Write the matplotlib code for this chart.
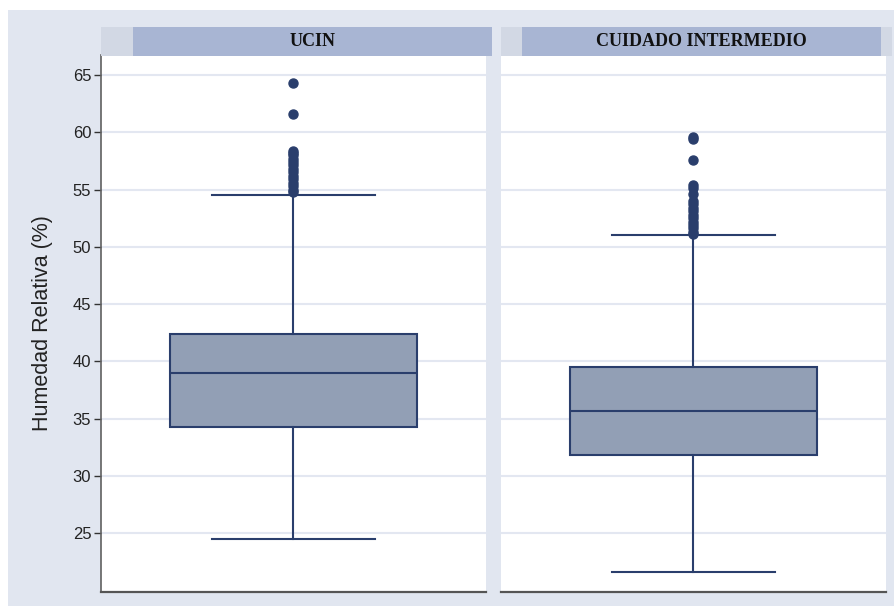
import matplotlib.pyplot as plt
from matplotlib.patches import Rectangle

# box summaries per unit
units = ["UCIN", "CUIDADO INTERMEDIO"]
q1 = [34.3, 31.8]
med = [39.0, 35.7]
q3 = [42.4, 39.5]
whislo = [24.5, 21.6]
whishi = [54.5, 51.0]
fliers = [
    [64.3, 61.6, 58.4, 58.2, 58.0, 57.7, 57.4, 57.1, 56.8, 56.5, 56.2,
     55.9, 55.6, 55.3, 55.0, 54.8],
    [59.6, 59.4, 57.6, 55.4, 55.1, 54.6, 54.0, 53.7, 53.4, 53.1, 52.8,
     52.5, 52.2, 51.9, 51.6, 51.3, 51.1],
]
yticks = [25, 30, 35, 40, 45, 50, 55, 60, 65]

W, H = 895, 606
bg = "#E1E6F0"
navy = "#2A3E6C"
fill = "#929FB5"

fig = plt.figure(figsize=(W / 100, H / 100), dpi=100)
fig.patch.set_facecolor("white")
fig.patches.append(Rectangle((8 / W, 0), 1, 1 - 10 / H, transform=fig.transFigure,
                             facecolor=bg, edgecolor="none", zorder=-10))

panel_x = [101, 501]
strip_blue = [(133, 492), (522, 881)]
for i, name in enumerate(units):
    x0 = panel_x[i]
    ax = fig.add_axes([x0 / W, 14 / H, 385 / W, 537 / H])
    ax.set_facecolor("white")
    stats = [dict(med=med[i], q1=q1[i], q3=q3[i], whislo=whislo[i],
                  whishi=whishi[i], fliers=fliers[i])]
    ax.bxp(stats, positions=[1], widths=1.28, capwidths=0.85, patch_artist=True,
           boxprops=dict(facecolor=fill, edgecolor=navy, linewidth=1.5),
           medianprops=dict(color=navy, linewidth=1.5),
           whiskerprops=dict(color=navy, linewidth=1.5),
           capprops=dict(color=navy, linewidth=1.5),
           flierprops=dict(marker="o", markersize=6.5, markerfacecolor=navy,
                           markeredgecolor=navy))
    ax.set_xlim(0, 2)
    ax.set_ylim(19.85, 66.75)
    ax.set_yticks(yticks)
    ax.set_xticks([])
    ax.grid(axis="y", color="#E3E7F1", linewidth=1.5)
    ax.set_axisbelow(True)
    for s in ["top", "right"]:
        ax.spines[s].set_visible(False)
    ax.spines["bottom"].set_color("#555555")
    ax.spines["bottom"].set_linewidth(1.6)
    if i == 0:
        ax.spines["left"].set_color("#606060")
        ax.spines["left"].set_linewidth(1.2)
        ax.tick_params(axis="y", length=5, width=1, color="#333333",
                       labelsize=12, labelcolor="#222222", pad=2)
        for t in ax.get_yticklabels():
            t.set_fontfamily("Liberation Sans")
        ax.set_ylabel("Humedad Relativa (%)", fontsize=15.5,
                      fontfamily="Liberation Sans", color="#222222", labelpad=14)
    else:
        ax.spines["left"].set_visible(False)
        ax.tick_params(axis="y", length=0, labelleft=False)

    # strip header
    fig.patches.append(Rectangle((x0 / W, 1 - 56 / H), 391 / W, 29 / H,
                                 transform=fig.transFigure, facecolor="#D2D8E4",
                                 edgecolor="none"))
    bx0, bx1 = strip_blue[i]
    fig.patches.append(Rectangle((bx0 / W, 1 - 56 / H), (bx1 - bx0) / W, 29 / H,
                                 transform=fig.transFigure, facecolor="#A8B5D3",
                                 edgecolor="none"))
    fig.text((bx0 + bx1) / 2 / W, 1 - 41 / H, name, ha="center", va="center",
             fontsize=13, fontweight="bold", fontfamily="Liberation Serif",
             color="#111111")

fig.savefig("out.png", dpi=100)
